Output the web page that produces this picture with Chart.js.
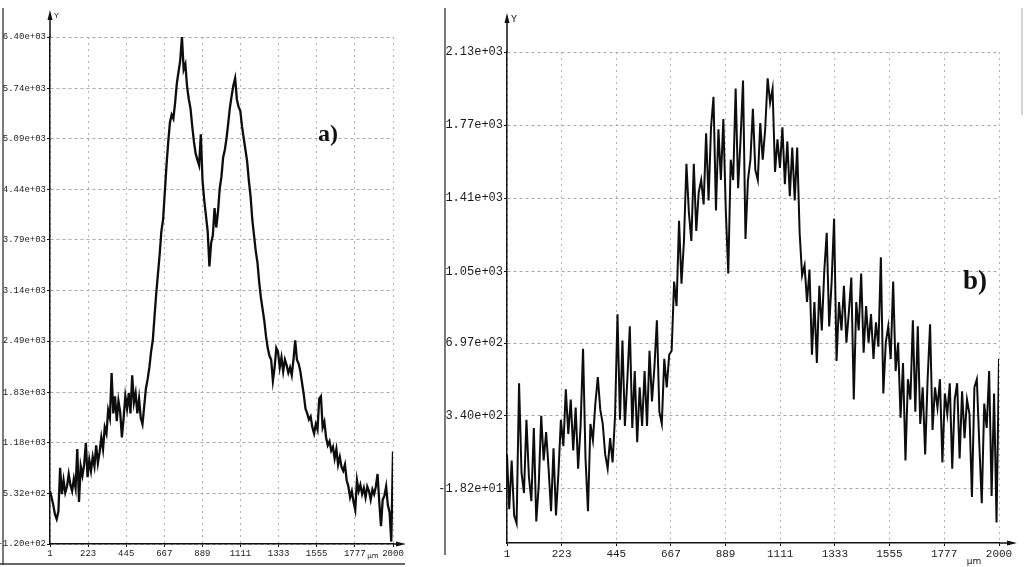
<!DOCTYPE html>
<html><head><meta charset="utf-8">
<script src="https://cdn.jsdelivr.net/npm/chart.js@4.4.1/dist/chart.umd.min.js"></script>
<style>
html,body{margin:0;padding:0;background:#fff;}
#wrap{position:relative;width:1026px;height:567px;overflow:hidden;background:#fff;}
canvas{position:absolute;top:0;}
#ca{left:0;} #cb{left:420px;}
</style></head><body>
<div id="wrap"><canvas id="ca" width="420" height="567"></canvas><canvas id="cb" width="606" height="567"></canvas></div>
<script>
// x positions in µm (sampling step) and tick labels shared by both panels
const X_TICKS = [1, 223, 445, 667, 889, 1111, 1333, 1555, 1777, 2000];
const STEP = 10;

// Panel a) profile values, one every 10 µm from 0 to 2000
const A_VALUES = [
  560, 480, 380, 260, 200, 300, 860, 520, 700, 540,
  620, 780, 640, 560, 720, 600, 1100, 420, 880, 760,
  900, 1180, 740, 960, 820, 1000, 880, 1150, 920, 1060,
  1250, 1100, 1380, 1300, 1600, 1500, 2080, 1560, 1780, 1460,
  1720, 1580, 1250, 1500, 1780, 1620, 1820, 1560, 2050, 1700,
  1820, 1560, 1750, 1500, 1420, 1650, 1880, 2000, 2150, 2350,
  2500, 2800, 3100, 3350, 3600, 3900, 4050, 4400, 4750, 5050,
  5300, 5400, 5350, 5550, 5800, 5950, 6100, 6400, 5980, 6050,
  5760, 5600, 5480, 5250, 5050, 4900, 4820, 4750, 5150, 4550,
  4300, 4100, 3900, 3450, 3750, 3850, 4200, 3950, 4150, 4450,
  4600, 4850, 4950, 5100, 5300, 5500, 5650, 5780, 5870, 5600,
  5500, 5450, 5250, 5100, 4950, 4800, 4550, 4350, 4050, 3850,
  3650, 3500, 3250, 3050, 2900, 2750, 2550, 2400, 2300, 2250,
  1980, 2150, 2400, 2350, 2150, 2280, 2100, 2250, 2180, 2080,
  2150, 2050, 2250, 2500, 2250, 2200, 2100, 1950, 1800, 1620,
  1560, 1480, 1520, 1380, 1300, 1420, 1350, 1750, 1780, 1380,
  1450, 1250, 1150, 1200, 1080, 1130, 980, 1100, 900, 1000,
  870, 820, 900, 700, 620, 480, 560, 420, 320, 700,
  560, 640, 520, 600, 480, 620, 560, 450, 580, 520,
  620, 780, 420, 110, 450, 500, 620, 380, 290, -90,
  1070
];
const A_Y_TICKS = [-120, 532, 1180, 1830, 2490, 3140, 3790, 4440, 5090, 5740, 6400];
const A_Y_LABELS = ['-1.20e+02', '5.32e+02', '1.18e+03', '1.83e+03', '2.49e+03', '3.14e+03',
                    '3.79e+03', '4.44e+03', '5.09e+03', '5.74e+03', '6.40e+03'];

// Panel b) profile values, one every 10 µm from 0 to 2000
const B_VALUES = [
  150, -120, 120, -150, -190, 500, 60, -40, 320, 40,
  -80, 280, -180, 0, 340, 120, 260, 80, -130, 180,
  -150, 60, 320, 190, 470, 250, 420, 170, 380, 80,
  290, 670, 130, -130, 300, 220, 400, 530, 370, 300,
  150, 80, 230, 110, 340, 840, 320, 710, 290, 520,
  780, 280, 560, 210, 480, 290, 560, 290, 660, 410,
  580, 810, 360, 300, 620, 480, 640, 660, 1000, 880,
  1300, 990, 1200, 1580, 1340, 1200, 1580, 1250, 1440, 1500,
  1380, 1730, 1400, 1760, 1910, 1350, 1750, 1500, 1800, 1350,
  1040, 1600, 1500, 1950, 1460, 1700, 1990, 1210, 1500, 1600,
  1850, 1550, 1500, 1780, 1600, 1750, 2000, 1880, 1950, 1540,
  1700, 1560, 1760, 1480, 1690, 1420, 1660, 1400, 1660, 1240,
  1030, 1080, 900, 1060, 640, 900, 600, 980, 760, 1050,
  1240, 780, 1000, 1310, 610, 900, 760, 980, 700, 850,
  1020, 420, 900, 760, 1040, 650, 880, 700, 840, 620,
  800, 680, 1120, 450, 700, 780, 620, 1000, 560, 700,
  330, 600, 120, 520, 420, 810, 360, 780, 300, 480,
  150, 520, 790, 270, 480, 380, 520, 110, 450, 350,
  500, 80, 420, 500, 130, 460, 230, 420, 350, -60,
  480, 520, 200, -90, 400, 280, 560, -55, 450, -185,
  620
];
const B_Y_TICKS = [-18.2, 340, 697, 1050, 1410, 1770, 2130];
const B_Y_LABELS = ['-1.82e+01', '3.40e+02', '6.97e+02', '1.05e+03', '1.41e+03', '1.77e+03', '2.13e+03'];

function decoPlugin(cfg) {
  return {
    id: 'deco_' + cfg.tag,
    afterDraw(chart) {
      const ctx = chart.ctx, ca = chart.chartArea;
      ctx.save();
      ctx.strokeStyle = '#111'; ctx.fillStyle = '#111'; ctx.lineWidth = 1.5;
      const ty = ca.top - cfg.yExt;
      ctx.beginPath(); ctx.moveTo(ca.left, ca.top); ctx.lineTo(ca.left, ty + 4); ctx.stroke();
      ctx.beginPath(); ctx.moveTo(ca.left, ty); ctx.lineTo(ca.left - 2.5, ty + 10); ctx.lineTo(ca.left + 2.5, ty + 10); ctx.closePath(); ctx.fill();
      ctx.font = cfg.yFont + 'px "Liberation Mono"'; ctx.textAlign = 'left'; ctx.textBaseline = 'middle';
      ctx.fillText('Y', ca.left + 4, ty + 6);
      const tx = ca.right + cfg.xExt;
      ctx.beginPath(); ctx.moveTo(ca.right, ca.bottom); ctx.lineTo(tx - 4, ca.bottom); ctx.stroke();
      ctx.beginPath(); ctx.moveTo(tx, ca.bottom); ctx.lineTo(tx - 10, ca.bottom - 2.5); ctx.lineTo(tx - 10, ca.bottom + 2.5); ctx.closePath(); ctx.fill();
      ctx.font = cfg.umFont + 'px "DejaVu Sans"'; ctx.textAlign = 'center';
      ctx.fillText('\u00b5m', ca.right + cfg.umDx, ca.bottom + cfg.umDy);
      ctx.font = 'bold ' + cfg.tagFont + 'px "Liberation Serif"';
      ctx.fillText(cfg.tag, ca.left + cfg.tagDx, ca.top + cfg.tagDy);
      ctx.strokeStyle = '#333'; ctx.lineWidth = 1.3;
      ctx.beginPath(); ctx.moveTo(cfg.frameX, 8); ctx.lineTo(cfg.frameX, cfg.frameBottom); ctx.stroke();
      if (cfg.bottomLine) {
        ctx.beginPath(); ctx.moveTo(0, cfg.bottomLine); ctx.lineTo(ca.right + 12, cfg.bottomLine); ctx.stroke();
      }
      if (cfg.rightLine) {
        ctx.strokeStyle = '#aaa'; ctx.lineWidth = 1;
        ctx.beginPath(); ctx.moveTo(cfg.rightLine, 8); ctx.lineTo(cfg.rightLine, 115); ctx.stroke();
      }
      ctx.restore();
    }
  };
}

function makePanel(id, values, yTicks, yLabels, cfg) {
  const pts = values.map((v, i) => ({ x: Math.max(1, i * STEP), y: v }));
  return new Chart(document.getElementById(id), {
    type: 'line',
    data: { datasets: [{ data: pts, borderColor: '#0d0d0d', borderWidth: cfg.lw, pointRadius: 0, tension: 0, fill: false }] },
    options: {
      responsive: false, animation: false, devicePixelRatio: 1, events: [],
      layout: { padding: { left: 0, right: cfg.padRight, top: cfg.padTop, bottom: 0 } },
      plugins: { legend: { display: false }, tooltip: { enabled: false } },
      scales: {
        x: {
          type: 'linear', min: 1, max: 2000,
          afterFit: s => { s.height = cfg.xH; },
          afterBuildTicks: s => { s.ticks = X_TICKS.map(v => ({ value: v })); },
          ticks: { autoSkip: false, maxRotation: 0, padding: 1, color: '#1a1a1a',
                   font: { family: 'Liberation Mono', size: cfg.xFont }, callback: v => String(v) },
          grid: { color: '#b4b4b4', lineWidth: 1, tickLength: 3, tickColor: '#111' },
          border: { display: true, color: '#111', width: 1.5, dash: [2, 4] }
        },
        y: {
          type: 'linear', min: cfg.yMin, max: cfg.yMax,
          afterFit: s => { s.width = cfg.yW; },
          afterBuildTicks: s => { s.ticks = yTicks.map(v => ({ value: v })); },
          ticks: { autoSkip: false, padding: 1, color: '#1a1a1a',
                   font: { family: 'Liberation Mono', size: cfg.yFontT }, callback: (v, i) => yLabels[i] },
          grid: { color: '#a8a8a8', lineWidth: 1, tickLength: 3, tickColor: '#111' },
          border: { display: true, color: '#111', width: 1.5, dash: [3, 3] }
        }
      }
    },
    plugins: [decoPlugin(cfg)]
  });
}

makePanel('ca', A_VALUES, A_Y_TICKS, A_Y_LABELS, {
  tag: 'a)', lw: 2.3, padRight: 27, padTop: 37, xH: 23, yW: 50, yMin: -120, yMax: 6400,
  xFont: 9, yFontT: 9, yFont: 8, yExt: 27, xExt: 13, umFont: 7, umDx: -20, umDy: 12,
  tagFont: 24, tagDx: 278, tagDy: 98, frameX: 3, frameBottom: 565, bottomLine: 564
});
makePanel('cb', B_VALUES, B_Y_TICKS, B_Y_LABELS, {
  tag: 'b)', lw: 2, padRight: 27, padTop: 52, xH: 24, yW: 87, yMin: -286, yMax: 2130,
  xFont: 11, yFontT: 12, yFont: 10, yExt: 39, xExt: 18, umFont: 9, umDx: -25, umDy: 19,
  tagFont: 27, tagDx: 468, tagDy: 230, frameX: 25, frameBottom: 555, rightLine: 602
});
</script>
</body></html>
